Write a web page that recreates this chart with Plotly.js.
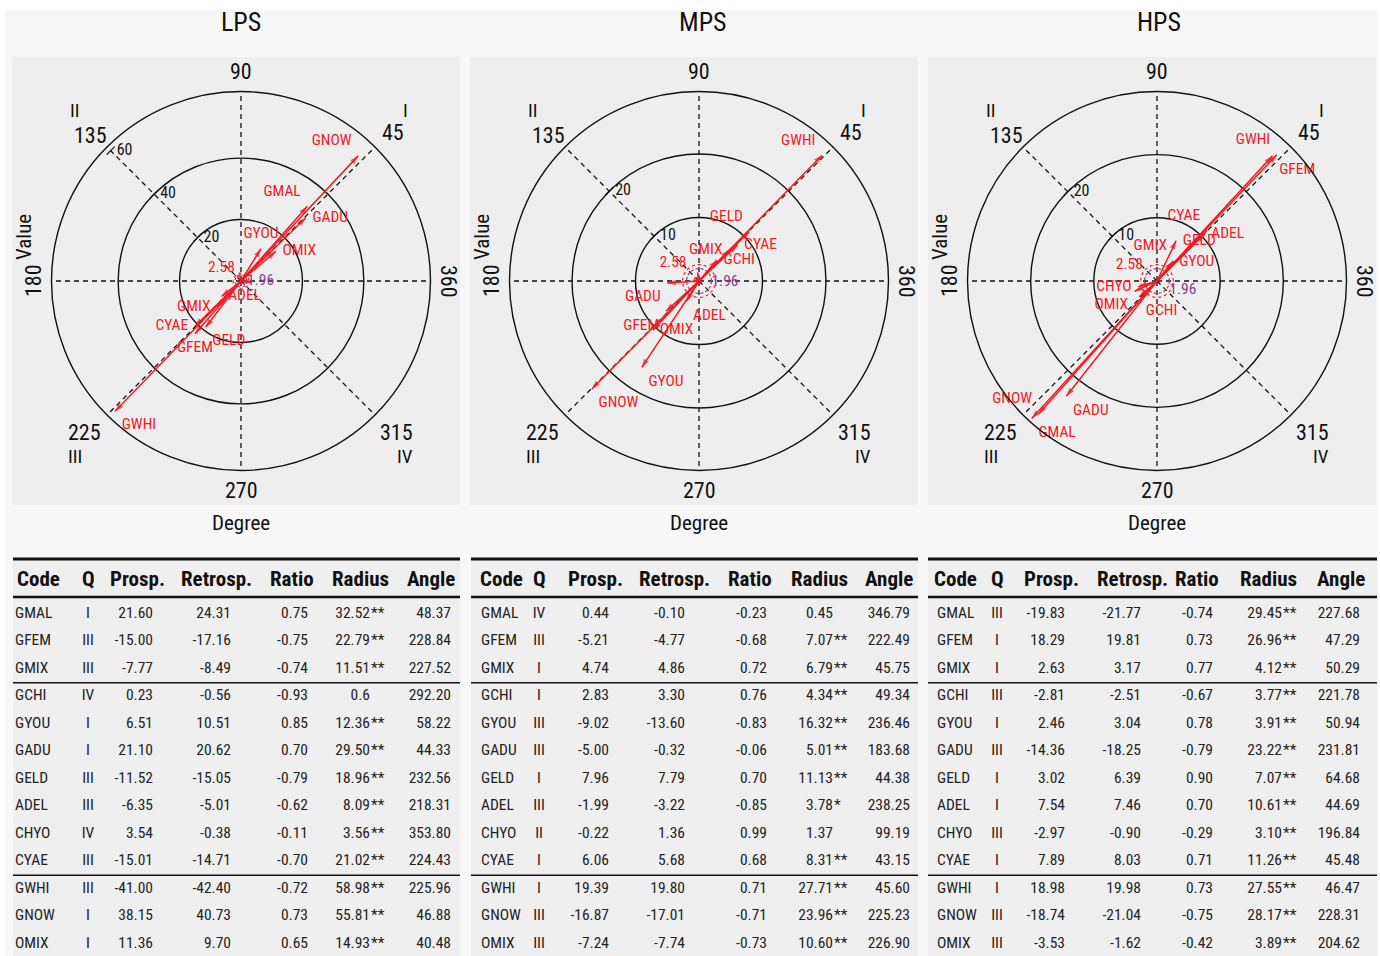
<!DOCTYPE html>
<html>
<head>
<meta charset="utf-8">
<script src="https://cdn.plot.ly/plotly-3.0.1.min.js"></script>
<style>
  html, body { margin: 0; padding: 0; background: #ffffff; }
  #chart { width: 1380px; height: 956px; }
</style>
</head>
<body>
<div id="chart"></div>
<script>
// ---------------- data ----------------
const panelTitles = ['LPS', 'MPS', 'HPS'];
const codes = ['GMAL', 'GFEM', 'GMIX', 'GCHI', 'GYOU', 'GADU', 'GELD', 'ADEL', 'CHYO', 'CYAE', 'GWHI', 'GNOW', 'OMIX'];
const headers = ['Code', 'Q', 'Prosp.', 'Retrosp.', 'Ratio', 'Radius', 'Angle'];

// LPS
const lpsQ = ['I', 'III', 'III', 'IV', 'I', 'I', 'III', 'III', 'IV', 'III', 'III', 'I', 'I'];
const lpsProsp = ['21.60', '-15.00', '-7.77', '0.23', '6.51', '21.10', '-11.52', '-6.35', '3.54', '-15.01', '-41.00', '38.15', '11.36'];
const lpsRetro = ['24.31', '-17.16', '-8.49', '-0.56', '10.51', '20.62', '-15.05', '-5.01', '-0.38', '-14.71', '-42.40', '40.73', '9.70'];
const lpsRatio = ['0.75', '-0.75', '-0.74', '-0.93', '0.85', '0.70', '-0.79', '-0.62', '-0.11', '-0.70', '-0.72', '0.73', '0.65'];
const lpsRadius = ['32.52', '22.79', '11.51', '0.6', '12.36', '29.50', '18.96', '8.09', '3.56', '21.02', '58.98', '55.81', '14.93'];
const lpsSig = ['**', '**', '**', '', '**', '**', '**', '**', '**', '**', '**', '**', '**'];
const lpsAngle = ['48.37', '228.84', '227.52', '292.20', '58.22', '44.33', '232.56', '218.31', '353.80', '224.43', '225.96', '46.88', '40.48'];
const lpsArrowLabels = ['GMAL', 'GFEM', 'GMIX', '', 'GYOU', 'GADU', 'GELD', 'ADEL', '', 'CYAE', 'GWHI', 'GNOW', 'OMIX'];

// MPS
const mpsQ = ['IV', 'III', 'I', 'I', 'III', 'III', 'I', 'III', 'II', 'I', 'I', 'III', 'III'];
const mpsProsp = ['0.44', '-5.21', '4.74', '2.83', '-9.02', '-5.00', '7.96', '-1.99', '-0.22', '6.06', '19.39', '-16.87', '-7.24'];
const mpsRetro = ['-0.10', '-4.77', '4.86', '3.30', '-13.60', '-0.32', '7.79', '-3.22', '1.36', '5.68', '19.80', '-17.01', '-7.74'];
const mpsRatio = ['-0.23', '-0.68', '0.72', '0.76', '-0.83', '-0.06', '0.70', '-0.85', '0.99', '0.68', '0.71', '-0.71', '-0.73'];
const mpsRadius = ['0.45', '7.07', '6.79', '4.34', '16.32', '5.01', '11.13', '3.78', '1.37', '8.31', '27.71', '23.96', '10.60'];
const mpsSig = ['', '**', '**', '**', '**', '**', '**', '*', '', '**', '**', '**', '**'];
const mpsAngle = ['346.79', '222.49', '45.75', '49.34', '236.46', '183.68', '44.38', '238.25', '99.19', '43.15', '45.60', '225.23', '226.90'];
const mpsArrowLabels = ['', 'GFEM', 'GMIX', 'GCHI', 'GYOU', 'GADU', 'GELD', 'ADEL', '', 'CYAE', 'GWHI', 'GNOW', 'OMIX'];

// HPS
const hpsQ = ['III', 'I', 'I', 'III', 'I', 'III', 'I', 'I', 'III', 'I', 'I', 'III', 'III'];
const hpsProsp = ['-19.83', '18.29', '2.63', '-2.81', '2.46', '-14.36', '3.02', '7.54', '-2.97', '7.89', '18.98', '-18.74', '-3.53'];
const hpsRetro = ['-21.77', '19.81', '3.17', '-2.51', '3.04', '-18.25', '6.39', '7.46', '-0.90', '8.03', '19.98', '-21.04', '-1.62'];
const hpsRatio = ['-0.74', '0.73', '0.77', '-0.67', '0.78', '-0.79', '0.90', '0.70', '-0.29', '0.71', '0.73', '-0.75', '-0.42'];
const hpsRadius = ['29.45', '26.96', '4.12', '3.77', '3.91', '23.22', '7.07', '10.61', '3.10', '11.26', '27.55', '28.17', '3.89'];
const hpsSig = ['**', '**', '**', '**', '**', '**', '**', '**', '**', '**', '**', '**', '**'];
const hpsAngle = ['227.68', '47.29', '50.29', '221.78', '50.94', '231.81', '64.68', '44.69', '196.84', '45.48', '46.47', '228.31', '204.62'];
const hpsArrowLabels = ['GMAL', 'GFEM', 'GMIX', 'GCHI', 'GYOU', 'GADU', 'GELD', 'ADEL', 'CHYO', 'CYAE', 'GWHI', 'GNOW', 'OMIX'];

// radial axis ticks of each panel
const lpsRadialTicks = [20, 40, 60];
const mpsRadialTicks = [10, 20];
const hpsRadialTicks = [10, 20];

// significance thresholds
const critical = [2.58, 1.96];
const criticalLabels = ['2.58', '1.96'];

// ---------------- layout constants ----------------
const W = 1380, H = 956;
const FONT = '"Roboto Condensed", "Liberation Sans Narrow", "DejaVu Sans Condensed", "Arial Narrow", Roboto, sans-serif';
const RED = '#ee1c25';
const PURPLE = '#8a3d8f';
const px = x => x / W;
const py = y => 1 - y / H;

const centersX = [241, 699, 1157];
const centerY = 281;
const outerR = 189.5;
const radialMax = [61.7, 29.85, 30.0];

const panels = [
  { q: lpsQ, prosp: lpsProsp, retro: lpsRetro, ratio: lpsRatio, radius: lpsRadius, sig: lpsSig, angle: lpsAngle, labels: lpsArrowLabels, ticks: lpsRadialTicks,
    pos: ['top left', 'bottom center', 'middle left', 'middle right', 'top center', 'middle right', 'bottom right', 'middle right', 'middle right', 'middle left', 'bottom right', 'top left', 'middle right'],
    critTheta: [140, 355], critPos: ['top left', 'middle right'] },
  { q: mpsQ, prosp: mpsProsp, retro: mpsRetro, ratio: mpsRatio, radius: mpsRadius, sig: mpsSig, angle: mpsAngle, labels: mpsArrowLabels, ticks: mpsRadialTicks,
    pos: ['middle right', 'bottom left', 'middle left', 'middle right', 'bottom right', 'bottom left', 'top left', 'bottom right', 'middle right', 'middle right', 'top left', 'bottom right', 'middle right'],
    critTheta: [140, 355], critPos: ['top left', 'middle right'] },
  { q: hpsQ, prosp: hpsProsp, retro: hpsRetro, ratio: hpsRatio, radius: hpsRadius, sig: hpsSig, angle: hpsAngle, labels: hpsArrowLabels, ticks: hpsRadialTicks,
    pos: ['bottom right', 'bottom right', 'top left', 'bottom right', 'middle right', 'bottom right', 'middle right', 'middle right', 'middle left', 'top left', 'top left', 'top left', 'bottom left'],
    critTheta: [150, 355], critPos: ['top left', 'bottom right'] }
];

// table column placement: [codeLeft, qCenter, prospRight, retroRight, ratioRight, radiusDigitsRight, angleRight]
const tableCols = [
  [15, 88, 153, 231, 308, 370, 451],
  [481, 539, 609, 685, 767, 833, 910],
  [937, 997, 1065, 1141, 1213, 1282, 1360]
];
// header centres (Code is left aligned)
const headerCols = [
  [15, 88, 137, 216, 292, 360, 431],
  [478, 539, 595, 674, 750, 819, 889],
  [932, 997, 1051, 1132, 1197, 1268, 1341]
];
const tableLeft = [13, 471, 928];
const tableRight = [460, 918, 1377];
const rowY = i => 614 + 27.5 * i;
const headerY = 579;

const traces = [];
const annotations = [];
const shapes = [];
const layout = {
  width: W, height: H,
  margin: { l: 0, r: 0, t: 0, b: 0 },
  paper_bgcolor: '#ffffff',
  plot_bgcolor: 'rgba(0,0,0,0)',
  showlegend: false,
  font: { family: FONT, color: '#111111' },
  xaxis: { domain: [0, 1], range: [0, W], visible: false, fixedrange: true },
  yaxis: { domain: [0, (H - 540) / H], range: [H, 540], visible: false, fixedrange: true },
  annotations: annotations,
  shapes: shapes
};

// background band behind the whole figure
shapes.push({ type: 'rect', xref: 'paper', yref: 'paper', x0: px(5), x1: px(1378), y0: 0, y1: py(10),
  fillcolor: '#f7f7f7', line: { width: 0 }, layer: 'below' });

panels.forEach((p, k) => {
  const cx = centersX[k];
  const sub = k === 0 ? 'polar' : 'polar' + (k + 1);
  const rMax = radialMax[k];

  // panel background
  shapes.push({ type: 'rect', xref: 'paper', yref: 'paper',
    x0: px(cx - 229), x1: px(cx + 219), y0: py(505), y1: py(57),
    fillcolor: '#eeeeee', line: { width: 0 }, layer: 'below' });
  // table background
  shapes.push({ type: 'rect', xref: 'paper', yref: 'paper',
    x0: px(tableLeft[k]), x1: px(tableRight[k]), y0: 0, y1: py(559),
    fillcolor: '#efefef', line: { width: 0 }, layer: 'below' });

  layout[sub] = {
    domain: { x: [px(cx - outerR), px(cx + outerR)], y: [py(centerY + outerR), py(centerY - outerR)] },
    bgcolor: 'rgba(0,0,0,0)',
    angularaxis: {
      rotation: 0, direction: 'counterclockwise',
      tickvals: [0, 45, 90, 135, 180, 225, 270, 315],
      showticklabels: false, ticks: '',
      showline: true, linecolor: '#111111', linewidth: 1.4,
      showgrid: true, gridcolor: '#111111', gridwidth: 1.3, griddash: '5px,4px'
    },
    radialaxis: {
      range: [0, rMax], tickvals: p.ticks.filter(t => t < rMax * 0.9),
      showticklabels: false, ticks: '', showline: false,
      showgrid: true, gridcolor: '#111111', gridwidth: 1.4, angle: 135
    }
  };

  // significance circles
  const ringTheta = [];
  for (let a = 0; a <= 360; a += 4) ringTheta.push(a);
  traces.push({ type: 'scatterpolar', subplot: sub, mode: 'lines', hoverinfo: 'skip',
    r: ringTheta.map(() => critical[0]), theta: ringTheta,
    line: { color: RED, width: 1.2, dash: 'dot' } });
  traces.push({ type: 'scatterpolar', subplot: sub, mode: 'lines', hoverinfo: 'skip',
    r: ringTheta.map(() => critical[1]), theta: ringTheta,
    line: { color: PURPLE, width: 1.2, dash: '3px,2px' } });
  traces.push({ type: 'scatterpolar', subplot: sub, mode: 'text', hoverinfo: 'skip', cliponaxis: false,
    r: critical, theta: p.critTheta, text: criticalLabels,
    textposition: p.critPos,
    textfont: { family: FONT, size: 15.5, color: [RED, PURPLE] } });

  // radial tick labels along the 135 degree line
  traces.push({ type: 'scatterpolar', subplot: sub, mode: 'markers+text', hoverinfo: 'skip', cliponaxis: false,
    r: p.ticks, theta: p.ticks.map(() => 135), text: p.ticks.map(String),
    textposition: 'middle right',
    marker: { symbol: 'line-ne', size: 8, color: '#111111', line: { color: '#111111', width: 1.2 } },
    textfont: { family: FONT, size: 16, color: '#111111' } });

  // arrows: origin -> (radius, angle)
  const r = [], th = [], txt = [], tpos = [], msize = [], mang = [];
  p.radius.forEach((rv, i) => {
    const rad = parseFloat(rv), ang = parseFloat(p.angle[i]);
    r.push(0, rad, null);
    th.push(ang, ang, null);
    txt.push('', p.labels[i], '');
    tpos.push('middle center', p.pos[i], 'middle center');
    msize.push(0, 9, 0);
    mang.push(0, 90 - ang, 0);
  });
  traces.push({ type: 'scatterpolar', subplot: sub, mode: 'lines+markers+text', hoverinfo: 'skip',
    cliponaxis: false, connectgaps: false,
    r: r, theta: th, text: txt, textposition: tpos,
    line: { color: RED, width: 1.5 },
    marker: { symbol: 'arrow', size: msize, angle: mang, color: RED, line: { width: 0 } },
    textfont: { family: FONT, size: 15.5, color: RED } });

  // angular labels and quadrant numerals
  const numLabels = [
    ['90', 0, -209, 0], ['270', 0, 210, 0], ['180', -208, 0, -90], ['360', 208, 0, 90],
    ['135', -151, -146, 0], ['45', 152, -148, 0], ['225', -157, 151, 0], ['315', 155, 151, 0]
  ];
  numLabels.forEach(a => annotations.push({ xref: 'paper', yref: 'paper', x: px(cx + a[1]), y: py(centerY + a[2]),
    text: a[0], textangle: a[3], showarrow: false, xanchor: 'center', yanchor: 'middle',
    font: { family: FONT, size: 22, color: '#111111' } }));
  const quadrants = [['II', -166, -171], ['I', 164, -171], ['III', -166, 175], ['IV', 164, 175]];
  quadrants.forEach(a => annotations.push({ xref: 'paper', yref: 'paper', x: px(cx + a[1]), y: py(centerY + a[2]),
    text: a[0], showarrow: false, xanchor: 'center', yanchor: 'middle',
    font: { family: FONT, size: 19, color: '#111111' } }));

  annotations.push({ xref: 'paper', yref: 'paper', x: px(cx - 217), y: py(237), text: 'Value', textangle: -90,
    showarrow: false, xanchor: 'center', yanchor: 'middle', font: { family: FONT, size: 21, color: '#111111' } });
  annotations.push({ xref: 'paper', yref: 'paper', x: px(cx), y: py(523), text: 'Degree',
    showarrow: false, xanchor: 'center', yanchor: 'middle', font: { family: FONT, size: 21, color: '#111111' } });
  annotations.push({ xref: 'paper', yref: 'paper', x: px([241, 703, 1159][k]), y: py(22), text: panelTitles[k],
    showarrow: false, xanchor: 'center', yanchor: 'middle', font: { family: FONT, size: 26, color: '#111111' } });

  // ---- table ----
  const c = tableCols[k], hc = headerCols[k];
  const rows = codes.map((_, i) => rowY(i));
  const cellFont = { family: FONT, size: 15.5, color: '#222222' };
  const addCol = (x, vals, position) => traces.push({ type: 'scatter', xaxis: 'x', yaxis: 'y', mode: 'text',
    hoverinfo: 'skip', cliponaxis: false, x: vals.map(() => x), y: rows, text: vals, textposition: position, textfont: cellFont });
  addCol(c[0], codes, 'middle right');
  addCol(c[1], p.q, 'middle center');
  addCol(c[2], p.prosp, 'middle left');
  addCol(c[3], p.retro, 'middle left');
  addCol(c[4], p.ratio, 'middle left');
  addCol(c[5], p.radius, 'middle left');
  addCol(c[5] + 1, p.sig, 'middle right');
  addCol(c[6], p.angle, 'middle left');

  headers.forEach((h, j) => annotations.push({ xref: 'x', yref: 'y', x: hc[j], y: headerY, text: '<b>' + h + '</b>',
    showarrow: false, xanchor: j === 0 ? 'left' : 'center', yanchor: 'middle',
    font: { family: FONT, size: 21, color: '#111111' } }));

  const rule = (y, w) => shapes.push({ type: 'line', xref: 'x', yref: 'y', x0: tableLeft[k], x1: tableRight[k], y0: y, y1: y,
    line: { color: '#111111', width: w } });
  rule(559, 3);
  rule(597, 2.5);
  rule((rowY(2) + rowY(3)) / 2, 1.5);
  rule((rowY(9) + rowY(10)) / 2, 1.5);
});

Plotly.newPlot('chart', traces, layout, { displayModeBar: false, staticPlot: true });
</script>
</body>
</html>
